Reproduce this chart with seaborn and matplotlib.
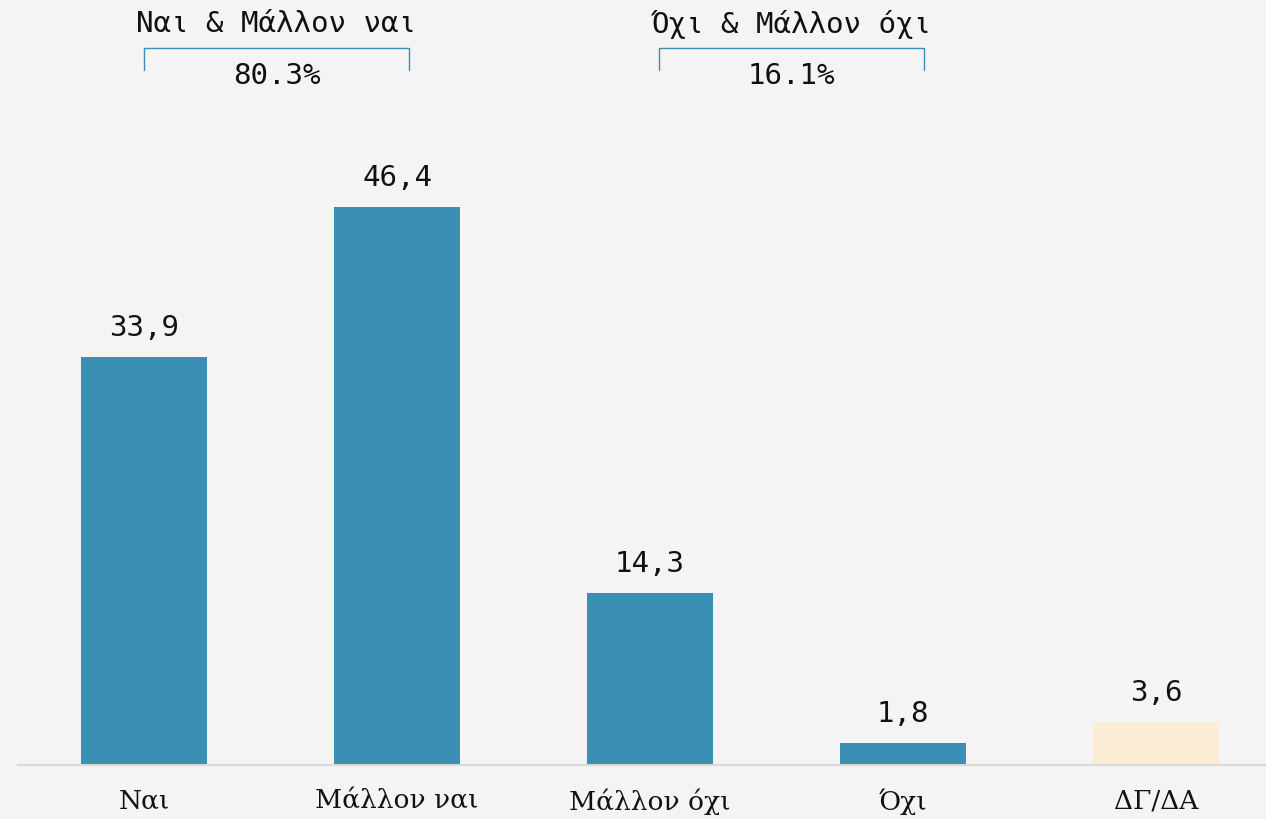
import numpy as np
import pandas as pd
import matplotlib
matplotlib.use("Agg")
import matplotlib.pyplot as plt
import seaborn as sns

categories = ["Ναι", "Μάλλον ναι", "Μάλλον όχι", "Όχι", "ΔΓ/ΔΑ"]
values = [33.9, 46.4, 14.3, 1.8, 3.6]
bar_colors = ["#3a8fb5", "#3a8fb5", "#3a8fb5", "#3a8fb5", "#faedd4"]

group_titles = ["Ναι & Μάλλον ναι", "Όχι & Μάλλον όχι"]
group_members = [[0, 1], [2, 3]]

BG = "#f4f4f4"
MONO = ["DejaVu Sans Mono"]
SERIF = ["DejaVu Serif"]

sns.set_theme(style="white")
plt.rcParams["font.family"] = ["DejaVu Sans"]

df = pd.DataFrame({"cat": categories, "val": values})

fig = plt.figure(figsize=(12.66, 8.19), dpi=100, facecolor=BG)
ax = fig.add_axes([17.5 / 1266, 54 / 819, 1265 / 1266, 765 / 819])
ax.set_facecolor(BG)

sns.barplot(data=df, x="cat", y="val", hue="cat", palette=bar_colors,
            width=0.5, saturation=1, legend=False, linewidth=0, ax=ax)

ax.set_ylim(0, 63.6)
ax.set_xlim(-0.5, 4.5)
for s in ["top", "right", "left"]:
    ax.spines[s].set_visible(False)
ax.spines["bottom"].set_color("#d9d9d9")
ax.spines["bottom"].set_linewidth(1.5)
ax.set_yticks([])
ax.set_xlabel("")
ax.set_ylabel("")
ax.tick_params(axis="x", length=0, pad=17)
for lbl in ax.get_xticklabels():
    lbl.set_fontfamily(SERIF)
    lbl.set_fontsize(19)
    lbl.set_color("#111111")

# value labels
for i, v in enumerate(values):
    ax.annotate(f"{v:.1f}".replace(".", ","), (i, v), xytext=(0, 21),
                textcoords="offset points", ha="center", va="center",
                fontsize=21, family=MONO, color="#111111")

# group brackets
for title, members in zip(group_titles, group_members):
    total = sum(values[m] for m in members)
    x0 = members[0] * 1.018
    x1 = x0 + 1.047
    xc = (x0 + x1) / 2
    ax.plot([x0, x0, x1, x1], [57.8, 59.6, 59.6, 57.8], color="#3a8fb5",
            lw=1, solid_joinstyle="round", clip_on=False)
    ax.text(xc, 61.6, title, ha="center", va="center", fontsize=21,
            family=MONO, color="#111111")
    ax.text(xc, 57.3, f"{total:.1f}%", ha="center", va="center", fontsize=21,
            family=MONO, color="#111111")

fig.savefig("out.png", dpi=100, facecolor=BG)
